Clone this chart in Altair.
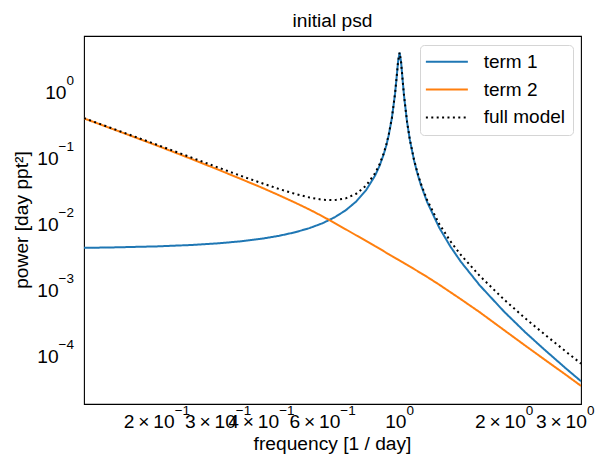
import altair as alt
import pandas as pd

# ---- data ----
freq = [0.1233, 0.15, 0.2, 0.25, 0.3, 0.35, 0.4, 0.45, 0.5, 0.55,
        0.6, 0.65, 0.7, 0.75, 0.8, 0.85, 0.875, 0.9, 0.915, 0.93,
        0.95, 0.97, 0.98, 0.99, 1.0, 1.01, 1.02, 1.03, 1.05, 1.07,
        1.1, 1.125, 1.15, 1.2, 1.3, 1.4, 1.5, 1.7, 2.0, 2.3,
        2.6, 3.0, 3.33]

term1 = [0.00433, 0.00440, 0.00456, 0.00478, 0.00507, 0.00545, 0.00595, 0.00660, 0.00746, 0.00863,
         0.01024, 0.01258, 0.01612, 0.02187, 0.03224, 0.0540, 0.0753, 0.1136, 0.1533, 0.219,
         0.401, 0.933, 1.62, 2.91, 3.95, 2.81, 1.53, 0.867, 0.359, 0.189,
         0.0925, 0.0584, 0.0398, 0.0215, 0.00879, 0.00455, 0.00268, 0.001175, 0.000467, 0.000228,
         0.000127, 0.0000656, 0.0000412]

term2 = [0.397, 0.271, 0.154, 0.0976, 0.0665, 0.0477, 0.0356, 0.0271, 0.0210, 0.0165,
         0.0130, 0.0103, 0.00826, 0.00670, 0.00553, 0.00459, 0.00422, 0.00386, 0.00365, 0.00348,
         0.00326, 0.00306, 0.00296, 0.00288, 0.00279, 0.00271, 0.00263, 0.00255, 0.00240, 0.00226,
         0.00207, 0.00193, 0.00180, 0.00157, 0.00120, 0.000923, 0.000723, 0.000459, 0.000245, 0.000143,
         0.0000897, 0.0000523, 0.0000350]

full = [0.401, 0.2754, 0.1586, 0.1024, 0.0716, 0.0532, 0.0416, 0.0337, 0.0285, 0.0251,
        0.0232, 0.0229, 0.0244, 0.0286, 0.0378, 0.0586, 0.0795, 0.1175, 0.157, 0.2225,
        0.4043, 0.936, 1.623, 2.913, 3.953, 2.813, 1.533, 0.870, 0.361, 0.191,
        0.0946, 0.0603, 0.0416, 0.0231, 0.00999, 0.00547, 0.0034, 0.001634, 0.000712, 0.000371,
        0.000217, 0.000118, 0.0000762]

series_names = ["term 1", "term 2", "full model"]
series_colors = ["#1f77b4", "#ff7f0e", "#000000"]
series_dash = [[1, 0], [1, 0], [2, 3.4]]

title_text = "initial psd"
x_title = "frequency [1 / day]"
y_title = "power [day ppt²]"

x_domain = [0.1233, 3.33]
y_domain = [1.86e-5, 7.05]
x_ticks = [0.2, 0.3, 0.4, 0.5, 0.6, 0.7, 0.8, 0.9, 1, 2, 3]
y_ticks = [m * 10.0 ** k for k in range(-5, 1) for m in range(1, 10)]
y_ticks = [v for v in y_ticks if y_domain[0] <= v <= y_domain[1]]

# tick labels (mantissa part + exponent part)
TS = "\u2009"
xlab_a_vals = [0.2, 0.3, 0.4, 0.6]
xlab_a_main = [f"2{TS}×{TS}10", f"3{TS}×{TS}10", f"4{TS}×{TS}10", f"6{TS}×{TS}10"]
xlab_a_exp = ["−1", "−1", "−1", "−1"]
xlab_b_vals = [2, 3]
xlab_b_main = [f"2{TS}×{TS}10", f"3{TS}×{TS}10"]
xlab_b_exp = ["0", "0"]
xlab_c_vals = [1]
xlab_c_main = ["10"]
xlab_c_exp = ["0"]
ylab_a_vals = [1]
ylab_a_exp = ["0"]
ylab_b_vals = [0.1, 0.01, 0.001, 0.0001]
ylab_b_exp = ["−1", "−2", "−3", "−4"]

rows = []
for name, vals in zip(series_names, [term1, term2, full]):
    for f, p in zip(freq, vals):
        rows.append({"freq": f, "power": p, "series": name})
df = pd.DataFrame(rows)

FONT = "Liberation Sans"
FS = 19.2
FS_EXP = 13.5
PLOT_W, PLOT_H = 497, 368

xscale = alt.Scale(type="log", domain=x_domain, nice=False)
yscale = alt.Scale(type="log", domain=y_domain, nice=False)
y_major = "abs(log(datum.value)/LN10 - round(log(datum.value)/LN10)) < 0.001"

legend = alt.Legend(
    title=None, orient="none", legendX=336, legendY=9,
    symbolType="M-1.3,0H3.7", symbolSize=282, symbolStrokeWidth=2,
    labelFont=FONT, labelFontSize=19, labelColor="black", labelOffset=37.4,
    rowPadding=7.8, padding=7.3, strokeColor="#d5d5d5", fillColor="white",
    cornerRadius=4,
)

lines = alt.Chart(df).mark_line(strokeWidth=2, clip=True).encode(
    x=alt.X("freq:Q", scale=xscale, title="",
            axis=alt.Axis(values=x_ticks, labels=False, grid=False,
                          tickSize={"condition": {"test": "datum.value == 1", "value": 4.9}, "value": 2.8})),
    y=alt.Y("power:Q", scale=yscale, title="",
            axis=alt.Axis(values=y_ticks, labels=False, grid=False,
                          tickSize={"condition": {"test": y_major, "value": 4.9}, "value": 2.8})),
    color=alt.Color("series:N", sort=series_names,
                    scale=alt.Scale(domain=series_names, range=series_colors), legend=legend),
    strokeDash=alt.StrokeDash("series:N", sort=series_names,
                              scale=alt.Scale(domain=series_names, range=series_dash), legend=legend),
)


def x_labels(vals, mains, exps, anchor_dx):
    d = pd.DataFrame({"v": vals, "main": mains, "exp": exps})
    base = alt.Chart(d)
    main = base.mark_text(align="right", baseline="alphabetic", dx=anchor_dx, font=FONT,
                          fontSize=FS, color="black").encode(
        x=alt.X("v:Q", scale=xscale, axis=None, title=""), y=alt.value(PLOT_H + 24.3), text="main:N")
    exp = base.mark_text(align="left", baseline="alphabetic", dx=anchor_dx, font=FONT,
                         fontSize=FS_EXP, color="black").encode(
        x=alt.X("v:Q", scale=xscale, axis=None, title=""), y=alt.value(PLOT_H + 11.3), text="exp:N")
    return [main, exp]


def y_labels(vals, exps, exp_w):
    d = pd.DataFrame({"v": vals, "main": ["10"] * len(vals), "exp": exps})
    base = alt.Chart(d)
    main = base.mark_text(align="right", baseline="alphabetic", dy=6.9, font=FONT,
                          fontSize=FS, color="black").encode(
        y=alt.Y("v:Q", scale=yscale, axis=None, title=""), x=alt.value(-10 - exp_w), text="main:N")
    exp = base.mark_text(align="right", baseline="alphabetic", dy=-6.6, font=FONT,
                         fontSize=FS_EXP, color="black").encode(
        y=alt.Y("v:Q", scale=yscale, axis=None, title=""), x=alt.value(-10), text="exp:N")
    return [main, exp]


def free_text(txt, x, y, size, angle=0):
    d = pd.DataFrame({"t": [txt]})
    return alt.Chart(d).mark_text(align="center", baseline="alphabetic", font=FONT,
                                  fontSize=size, color="black", angle=angle).encode(
        x=alt.value(x), y=alt.value(y), text="t:N")


layers = [lines]
layers += x_labels(xlab_a_vals, xlab_a_main, xlab_a_exp, 17.75)
layers += x_labels(xlab_b_vals, xlab_b_main, xlab_b_exp, 21.7)
layers += x_labels(xlab_c_vals, xlab_c_main, xlab_c_exp, 6.9)
layers += y_labels(ylab_a_vals, ylab_a_exp, 7.5)
layers += y_labels(ylab_b_vals, ylab_b_exp, 15.4)
layers.append(free_text(title_text, PLOT_W / 2, -9.5, 19.2))
layers.append(free_text(x_title, PLOT_W / 2, PLOT_H + 46, FS))
layers.append(free_text(y_title, -56, PLOT_H / 2, FS, angle=270))

chart = alt.layer(*layers).properties(
    width=PLOT_W, height=PLOT_H,
    autosize=alt.AutoSizeParams(type="none"),
    padding={"left": 84, "top": 36, "right": 23, "bottom": 65},
).configure_view(
    stroke="black", strokeWidth=1.1
).configure_axis(
    domainColor="black", domainWidth=1.1, tickColor="black", tickWidth=1.1,
)

chart.save("out.html", embed_options={"renderer": "svg", "actions": False})
